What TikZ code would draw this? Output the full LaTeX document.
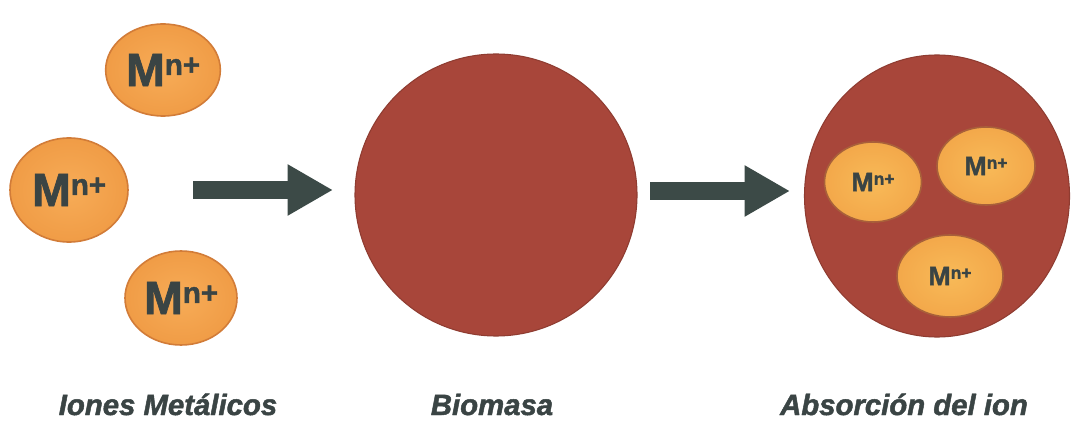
\documentclass[tikz,border=0pt]{standalone}
\usepackage{fontspec}
\setmainfont{Liberation Sans}
\newfontfamily\heavyfont{Liberation Sans}[FakeBold=1.6]
\usetikzlibrary{shapes.geometric, arrows.meta, positioning}

\definecolor{ionlight}{HTML}{F7AC57}
\definecolor{iondark}{HTML}{F09C46}
\definecolor{ionrim}{HTML}{D27C38}
\definecolor{ionpale}{HTML}{F8BA58}
\definecolor{ionpaledark}{HTML}{F3A84A}
\definecolor{ionshadow}{HTML}{A8603A}
\definecolor{biored}{HTML}{A8463A}
\definecolor{arrowgrey}{HTML}{3C4A47}
\definecolor{textgrey}{HTML}{3A4444}

\newcommand{\mnplus}[1]{M\raisebox{.24em}{\fontsize{#1}{#1}\selectfont n+}}

\begin{document}
\begin{tikzpicture}[x=0.75pt, y=-0.75pt,
    ion/.style={ellipse, draw=ionrim, line width=1.2pt, inner sep=0pt, shading=radial, inner color=ionlight, outer color=iondark, text=textgrey, font=\heavyfont\fontsize{35}{35}\selectfont\bfseries},
    ionsmall/.style={ion, draw=ionshadow, inner color=ionpale, outer color=ionpaledark, font=\heavyfont\fontsize{20}{20}\selectfont\bfseries},
    cell/.style={ellipse, fill=biored, draw=biored!85!black, line width=0.8pt, inner sep=0pt},
    flecha/.style={arrowgrey, line width=13.5pt, -{Triangle[length=34pt, width=36pt]}},
    rotulo/.style={anchor=base, text=textgrey, font=\heavyfont\fontsize{22}{26}\selectfont\bfseries\itshape}
]
\path[fill=white, use as bounding box] (0,0) rectangle (1071,424);

% Free metal ions (left)
\node[ion, minimum width=86pt, minimum height=69pt] (ion1) at (163,70) {\mnplus{22}};
\node[ion, minimum width=88.5pt, minimum height=78pt] (ion2) at (69,190) {\mnplus{22}};
\node[ion, minimum width=84pt, minimum height=70.5pt] (ion3) at (181,298) {\mnplus{22}};

% Biomass (middle)
\node[cell, minimum width=211.5pt, minimum height=211.5pt] (bio) at (496,195) {};

% Biomass with absorbed ions (right)
\node[cell, minimum width=198.75pt, minimum height=211.5pt] (abs) at (937,196) {};
\node[ionsmall, minimum width=72.75pt, minimum height=60pt] (abs1) at (873,182) {\mnplus{13}};
\node[ionsmall, minimum width=73.5pt, minimum height=58.5pt] (abs2) at (986,166) {\mnplus{13}};
\node[ionsmall, minimum width=79.5pt, minimum height=61.5pt] (abs3) at (950,276) {\mnplus{13}};

% Arrows
\coordinate (f1a) at (193,190);
\coordinate (f1b) at (333,190);
\coordinate (f2a) at (650,191);
\coordinate (f2b) at (790,191);
\draw[flecha] (f1a) -- (f1b);
\draw[flecha] (f2a) -- (f2b);

% Captions
\node[rotulo] (r1) at (168,415) {Iones Metálicos};
\node[rotulo] (r2) at (492,415) {Biomasa};
\node[rotulo] (r3) at (904,415) {Absorción del ion};

\end{tikzpicture}
\end{document}
